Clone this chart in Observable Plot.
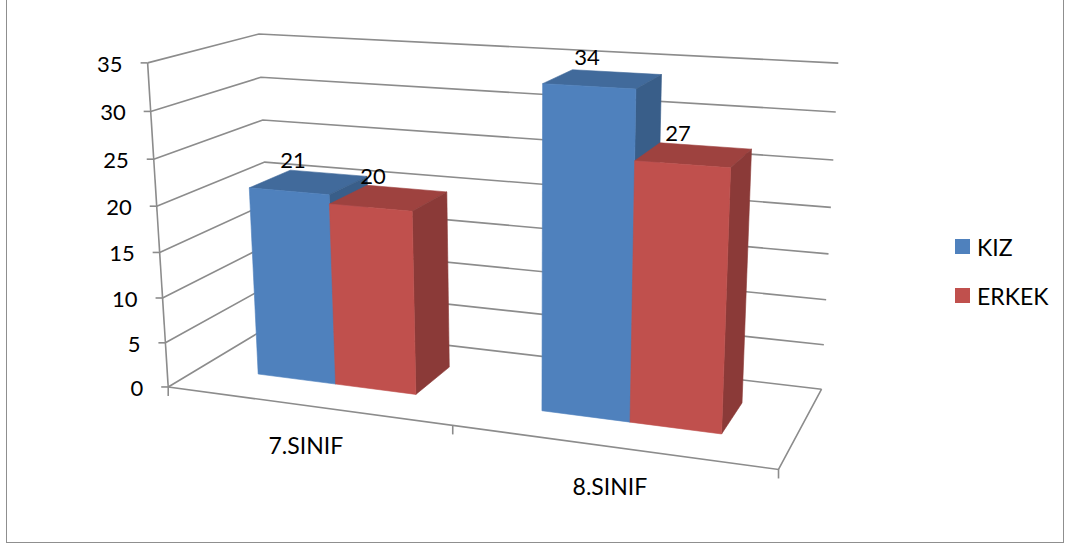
<!DOCTYPE html>
<html><head><meta charset="utf-8">
<script src="https://cdn.jsdelivr.net/npm/d3@7"></script>
<script src="https://cdn.jsdelivr.net/npm/@observablehq/plot@0.6"></script>
<style>
 html,body{margin:0;padding:0;background:#fff;}
 body{width:1070px;height:547px;position:relative;overflow:hidden;font-family:Lato,sans-serif;}
 #frame{position:absolute;left:6px;top:-1px;width:1058px;height:544px;border:1.5px solid #8f8f8f;box-sizing:border-box;}
 #chart{position:absolute;left:0;top:0;}
 #legend{position:absolute;left:955px;top:239px;font:23px Lato,sans-serif;color:#000;}
 .item{position:absolute;left:0;display:flex;align-items:center;height:15px;white-space:nowrap;}
 .sw{width:15px;height:15px;margin-right:7px;flex:none;}
</style></head><body>
<div id="frame"></div><div id="chart"></div><div id="legend"></div>
<script>
// ---- data ----
const classes = ["7.SINIF", "8.SINIF"];
const genders = ["KIZ", "ERKEK"];
const kizValues = [21, 34];
const erkekValues = [20, 27];
const valueTicks = [0, 5, 10, 15, 20, 25, 30, 35];

// ---- style ----
const palette = ["#4F81BD", "#C0504D"];
const gridColor = "#8c8c8c";
const textColor = "#000";
const barDepth = [0.3, 0.7];

const rows = classes.flatMap((c, i) => [
  {cls: c, gender: genders[0], value: kizValues[i]},
  {cls: c, gender: genders[1], value: erkekValues[i]}
]);

// ---- 3D camera: fitted from the reference's frame (u = category axis 0..1, v = value axis 0..1, w = depth 0..1) ----
const calibration = [
  [0, 1, 0, 150, 63], [0, 6/7, 0, 152, 111], [0, 5/7, 0, 153, 158], [0, 1/7, 0, 163, 343], [0, 0, 0, 168, 388],
  [0, 1, 1, 257, 34], [0, 6/7, 1, 260, 78], [0, 5/7, 1, 262, 121], [0, 2/7, 1, 269.5, 244], [0, 0, 1, 274, 323],
  [1, 1, 1, 839, 63], [1, 6/7, 1, 836, 112], [1, 5/7, 1, 833, 160], [1, 4/7, 1, 831, 207], [1, 1/7, 1, 823, 345], [1, 0, 1, 822, 390],
  [1, 0, 0, 778, 468], [0.5, 0, 0, 453, 427]
];
function fitCamera(points) {
  const cx = 500, cy = 270, s = 500, n = 11;
  const M = Array.from({length: n}, () => new Array(n + 1).fill(0));
  const add = (a, b) => { for (let i = 0; i < n; i++) { for (let j = 0; j < n; j++) M[i][j] += a[i] * a[j]; M[i][n] += a[i] * b; } };
  for (const [X, Y, Z, px, py] of points) {
    const x = (px - cx) / s, y = (py - cy) / s;
    add([X, Y, Z, 1, 0, 0, 0, 0, -x * X, -x * Y, -x * Z], x);
    add([0, 0, 0, 0, X, Y, Z, 1, -y * X, -y * Y, -y * Z], y);
  }
  for (let c = 0; c < n; c++) {
    let p = c;
    for (let r = c + 1; r < n; r++) if (Math.abs(M[r][c]) > Math.abs(M[p][c])) p = r;
    [M[c], M[p]] = [M[p], M[c]];
    for (let r = 0; r < n; r++) {
      if (r === c) continue;
      const f = M[r][c] / M[c][c];
      for (let k = c; k <= n; k++) M[r][k] -= f * M[c][k];
    }
  }
  const q = M.map((row, i) => row[n] / row[i]);
  return (X, Y, Z) => {
    const d = q[8] * X + q[9] * Y + q[10] * Z + 1;
    return [cx + s * (q[0] * X + q[1] * Y + q[2] * Z + q[3]) / d, cy + s * (q[4] * X + q[5] * Y + q[6] * Z + q[7]) / d];
  };
}
const P = fitCamera(calibration);
const pathOf = (pts, close) => "M" + pts.map(p => p[0].toFixed(2) + "," + p[1].toFixed(2)).join("L") + (close ? "Z" : "");

function subBand(scales, d) {
  const bw = scales.x.bandwidth() / genders.length;
  const u0 = scales.x(d.cls) + genders.indexOf(d.gender) * bw;
  return [u0, u0 + bw];
}

// walls, floor and axis lines
function wallsRender(index, scales, values) {
  const g = d3.create("svg:g").attr("fill", "none").attr("stroke", gridColor).attr("stroke-width", 1.6);
  for (const i of index) {
    const v = values.y[i];
    g.append("path").attr("d", pathOf([P(0, v, 0), P(0, v, 1), P(1, v, 1)]));
    const a = P(0, v, 0);
    g.append("path").attr("d", pathOf([a, [a[0] - 7, a[1]]]));
  }
  const y0 = scales.y(0), yTop = scales.y(35);
  g.append("path").attr("d", pathOf([P(0, y0, 0), P(0, yTop, 0)]));
  g.append("path").attr("d", pathOf([P(0, y0, 0), P(1, y0, 0), P(1, y0, 1)]));
  return g.node();
}

// category axis ticks + labels
function catRender(index, scales) {
  const g = d3.create("svg:g");
  const step = scales.x.step(), bw = scales.x.bandwidth();
  const bounds = classes.map(c => scales.x(c) - (step - bw) / 2).concat([1]);
  const y0 = scales.y(0);
  for (const u of bounds) {
    const a = P(u, y0, 0);
    g.append("path").attr("d", pathOf([a, [a[0], a[1] + 9]])).attr("stroke", gridColor).attr("stroke-width", 1.6).attr("fill", "none");
  }
  for (const i of index) {
    const c = classes[i];
    const a = P(scales.x(c) + bw / 2, y0, 0);
    g.append("text").attr("x", a[0]).attr("y", a[1] + 48.5).attr("text-anchor", "middle")
      .attr("font-family", "Lato, sans-serif").attr("font-size", 23).attr("fill", textColor).text(c);
  }
  return g.node();
}

// value axis labels
function valueAxisRender(index, scales, values) {
  const g = d3.create("svg:g");
  for (const i of index) {
    const a = P(0, values.y[i], 0);
    g.append("text").attr("x", a[0] - 25).attr("y", a[1] + 9).attr("text-anchor", "end")
      .attr("font-family", "Lato, sans-serif").attr("font-size", 22).attr("fill", textColor).text(valueTicks[i]);
  }
  return g.node();
}

// 3D bars
function barsRender(index, scales) {
  const g = d3.create("svg:g");
  const [w0, w1] = barDepth;
  const order = Array.from(index).sort((a, b) => subBand(scales, rows[a])[0] - subBand(scales, rows[b])[0]);
  const face = (pts, col) => g.append("path").attr("d", pathOf(pts.map(p => P(...p)), true))
    .attr("fill", col).attr("stroke", col).attr("stroke-width", 0.6).attr("stroke-linejoin", "round");
  for (const i of order) {
    const d = rows[i];
    const [u0, u1] = subBand(scales, d);
    const v0 = scales.y(0), v1 = scales.y(d.value);
    const c = d3.color(scales.color(d.gender));
    face([[u0, v1, w0], [u1, v1, w0], [u1, v1, w1], [u0, v1, w1]], c.darker(0.55).formatHex());
    face([[u1, v0, w0], [u1, v0, w1], [u1, v1, w1], [u1, v1, w0]], c.darker(0.9).formatHex());
    face([[u0, v0, w0], [u1, v0, w0], [u1, v1, w0], [u0, v1, w0]], c.formatHex());
  }
  return g.node();
}

// value labels
function labelRender(index, scales) {
  const g = d3.create("svg:g");
  for (const i of index) {
    const d = rows[i];
    const [u0, u1] = subBand(scales, d);
    const a = P((u0 + u1) / 2, scales.y(d.value), (barDepth[0] + barDepth[1]) / 2);
    g.append("text").attr("x", a[0] - 16).attr("y", a[1] - 14).attr("text-anchor", "middle")
      .attr("font-family", "Lato, sans-serif").attr("font-size", 22).attr("fill", textColor).text(d.value);
  }
  return g.node();
}

const plot = Plot.plot({
  width: 1070,
  height: 547,
  margin: 0,
  style: {background: "transparent", overflow: "visible"},
  x: {type: "band", domain: classes, range: [0, 1], paddingInner: 3 / 7, paddingOuter: 1.5 / 7, align: 0.5, round: false, axis: null},
  y: {type: "linear", domain: [0, 35], range: [0, 1], axis: null},
  color: {domain: genders, range: palette},
  marks: [
    Plot.ruleY(valueTicks, {y: d => d, render: wallsRender}),
    Plot.barY(rows, {x: "cls", y1: () => 0, y2: "value", fill: "gender", render: barsRender}),
    Plot.text(rows, {x: "cls", y: "value", text: "value", render: labelRender}),
    Plot.text(valueTicks, {y: d => d, text: d => d, render: valueAxisRender}),
    Plot.text(classes, {x: d => d, text: d => d, render: catRender})
  ]
});
document.getElementById("chart").appendChild(plot);

// legend from the plot's colour scale
const colorScale = plot.scale("color");
const legend = d3.select("#legend");
genders.forEach((g, i) => {
  const item = legend.append("div").attr("class", "item").style("top", (i * 49) + "px");
  item.append("div").attr("class", "sw").style("background", colorScale.apply(g));
  item.append("span").text(g);
});
</script>
</body></html>
